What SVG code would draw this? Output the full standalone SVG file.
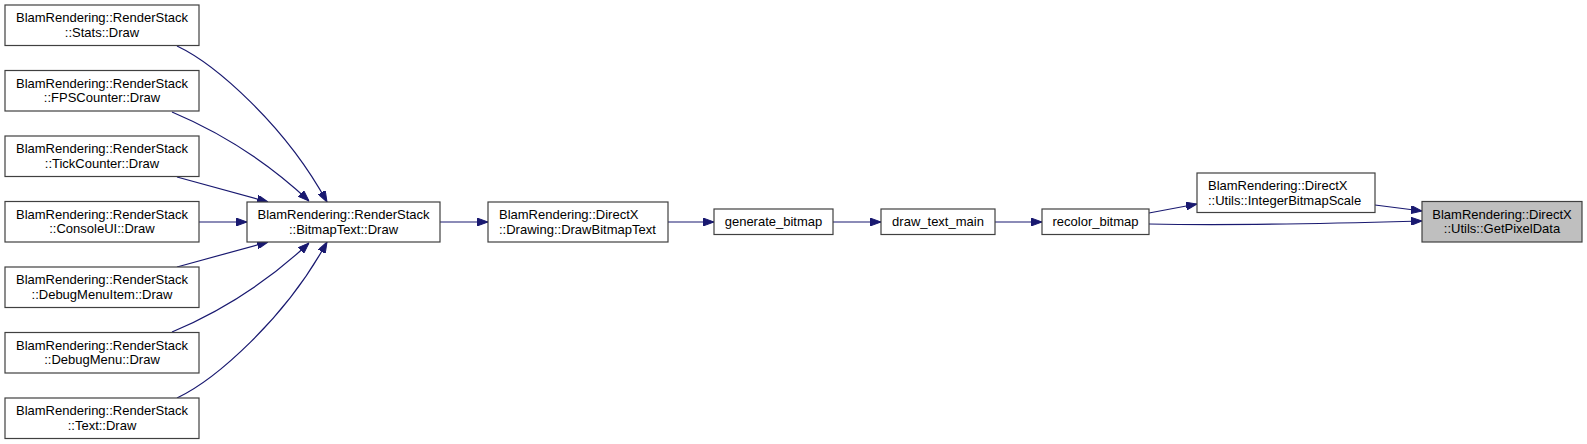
<svg xmlns="http://www.w3.org/2000/svg" width="1587" height="444" viewBox="0 0 1587 444">
<style>
.n rect{fill:#ffffff;stroke:#404040;stroke-width:1.2}
.n.h rect{fill:#bfbfbf}
.n text{font-family:"Liberation Sans",Arial,sans-serif;font-size:13px;fill:#000000}
.c{text-anchor:middle}
.l{text-anchor:start}
.e path{fill:none;stroke:#191970;stroke-width:1.2;marker-end:url(#arr)}
</style>
<defs>
<marker id="arr" viewBox="0 0 11 8" refX="11" refY="4" markerWidth="11" markerHeight="8" markerUnits="userSpaceOnUse" orient="auto">
<path d="M0,0 L11,4 L0,8 z" fill="#191970" stroke="#191970" stroke-width="1"/>
</marker>
</defs>
<rect width="1587" height="444" fill="#ffffff"/>
<g class="e" id="edges">
<path d="M177,46 C215,64 285,125 327,202"/>
<path d="M172,112 C210,128 260,155 309,201"/>
<path d="M177,177 L268,202"/>
<path d="M199,222 L247,222"/>
<path d="M177,267 L268,242"/>
<path d="M172,332 C210,316 260,289 309,243"/>
<path d="M177,398 C215,380 285,319 327,242"/>
<path d="M440,222 L488,222"/>
<path d="M668,222 L714,222"/>
<path d="M833,222 L881,222"/>
<path d="M995,222 L1042,222"/>
<path d="M1149,213 L1197,204"/>
<path d="M1149,224 C1250,226 1350,223 1422,221"/>
<path d="M1375,205 L1422,211"/>
</g>
<g class="n" id="stats"><rect x="5" y="5" width="194" height="40.5"/><text class="c" x="102" y="22">BlamRendering::RenderStack</text><text class="c" x="102" y="36.5">::Stats::Draw</text></g>
<g class="n" id="fps"><rect x="5" y="70.5" width="194" height="40.5"/><text class="c" x="102" y="87.5">BlamRendering::RenderStack</text><text class="c" x="102" y="102">::FPSCounter::Draw</text></g>
<g class="n" id="tick"><rect x="5" y="136" width="194" height="40.5"/><text class="c" x="102" y="153">BlamRendering::RenderStack</text><text class="c" x="102" y="167.5">::TickCounter::Draw</text></g>
<g class="n" id="console"><rect x="5" y="201.5" width="194" height="40.5"/><text class="c" x="102" y="218.5">BlamRendering::RenderStack</text><text class="c" x="102" y="233">::ConsoleUI::Draw</text></g>
<g class="n" id="dmi"><rect x="5" y="267" width="194" height="40.5"/><text class="c" x="102" y="284">BlamRendering::RenderStack</text><text class="c" x="102" y="298.5">::DebugMenuItem::Draw</text></g>
<g class="n" id="dm"><rect x="5" y="332.5" width="194" height="40.5"/><text class="c" x="102" y="349.5">BlamRendering::RenderStack</text><text class="c" x="102" y="364">::DebugMenu::Draw</text></g>
<g class="n" id="text"><rect x="5" y="398" width="194" height="40.5"/><text class="c" x="102" y="415">BlamRendering::RenderStack</text><text class="c" x="102" y="429.5">::Text::Draw</text></g>
<g class="n" id="bitmaptext"><rect x="247" y="202" width="193" height="40"/><text class="c" x="343.5" y="219">BlamRendering::RenderStack</text><text class="c" x="343.5" y="233.5">::BitmapText::Draw</text></g>
<g class="n" id="drawbitmaptext"><rect x="488" y="202" width="180" height="40"/><text class="l" x="499" y="219">BlamRendering::DirectX</text><text class="l" x="499" y="233.5">::Drawing::DrawBitmapText</text></g>
<g class="n" id="generate_bitmap"><rect x="714" y="209" width="119" height="25.5"/><text class="c" x="773.5" y="226">generate_bitmap</text></g>
<g class="n" id="draw_text_main"><rect x="881" y="209" width="114" height="25.5"/><text class="c" x="938" y="226">draw_text_main</text></g>
<g class="n" id="recolor_bitmap"><rect x="1042" y="209" width="107" height="25.5"/><text class="c" x="1095.5" y="226">recolor_bitmap</text></g>
<g class="n" id="integerbitmapscale"><rect x="1197" y="173" width="178" height="39.5"/><text class="l" x="1208" y="190">BlamRendering::DirectX</text><text class="l" x="1208" y="204.5">::Utils::IntegerBitmapScale</text></g>
<g class="n h" id="getpixeldata"><rect x="1422" y="201.5" width="160" height="40.5"/><text class="c" x="1502" y="218.5">BlamRendering::DirectX</text><text class="c" x="1502" y="233">::Utils::GetPixelData</text></g>
</svg>
